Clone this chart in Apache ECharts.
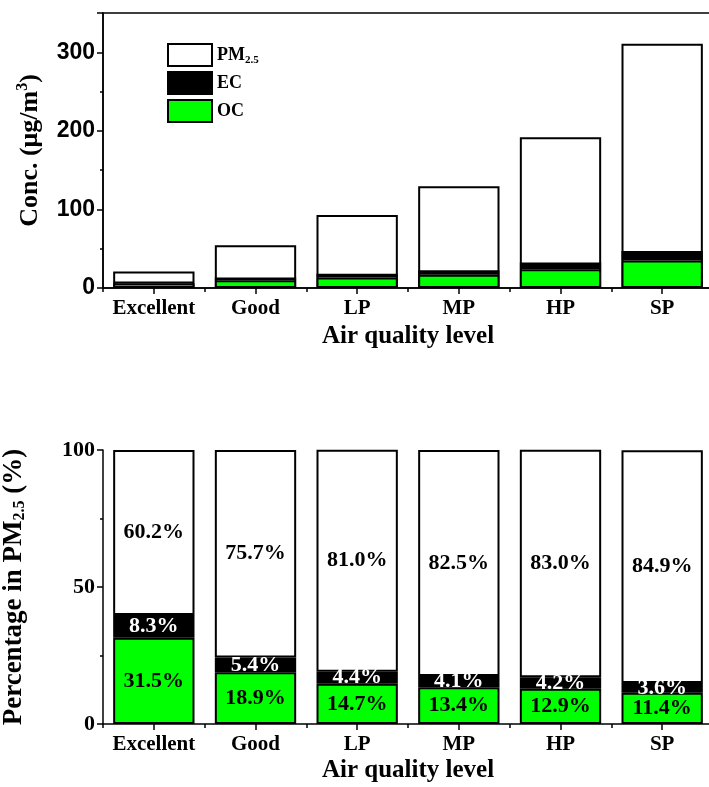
<!DOCTYPE html>
<html><head><meta charset="utf-8">
<script src="https://cdn.jsdelivr.net/npm/echarts@6/dist/echarts.min.js"></script>
<style>html,body{margin:0;padding:0;background:#fff}#c{width:709px;height:787px}</style>
</head><body><div id="c"></div>
<script>
const categories = ['Excellent', 'Good', 'LP', 'MP', 'HP', 'SP'];
// Upper panel: concentrations (µg/m3)
const pm25Conc = [21, 54.5, 93, 129.5, 192, 311];
const ocConc = [6, 10, 13.5, 17, 24, 35];
const ecConc = [2.3, 3.5, 4.5, 5.5, 8.5, 12];
// Lower panel: percentage in PM2.5
const ocPct = [31.5, 18.9, 14.7, 13.4, 12.9, 11.4];
const ecPct = [8.3, 5.4, 4.4, 4.1, 4.2, 3.6];
const otherPct = [60.2, 75.7, 81.0, 82.5, 83.0, 84.9];
const concTicks = [0, 100, 200, 300];

const SERIF = '"Liberation Serif", "Times New Roman", serif';
const SANS = '"Liberation Sans", Arial, sans-serif';
const LINE = { color: '#000', width: 1.5 };
const GREEN = '#00ff00';

function mainX(gi, gap) {
  return {
    gridIndex: gi, type: 'category', data: categories, position: 'bottom',
    axisLine: { show: true, lineStyle: LINE },
    axisTick: { show: true, alignWithLabel: true, interval: 0, length: 6, lineStyle: LINE },
    axisLabel: { interval: 0, fontFamily: SERIF, fontWeight: 'bold', fontSize: 21, color: '#000', margin: 10 },
    splitLine: { show: false },
    name: 'Air quality level', nameLocation: 'middle', nameGap: gap,
    nameTextStyle: { fontFamily: SERIF, fontWeight: 'bold', fontSize: 25, color: '#000' }
  };
}
function boundX(gi) {
  return {
    gridIndex: gi, type: 'category', data: categories, position: 'bottom',
    axisLine: { show: false },
    axisTick: { show: true, alignWithLabel: false, interval: 0, length: 4, lineStyle: LINE },
    axisLabel: { show: false }, splitLine: { show: false }
  };
}
const barBorder = { borderColor: '#000', borderWidth: 2 };
function pctLabel(color) {
  return {
    show: true, position: 'inside',
    formatter: p => p.value.toFixed(1) + '%',
    fontFamily: SERIF, fontWeight: 'bold', fontSize: 22, color: color, textBorderWidth: 0
  };
}

const chart = echarts.init(document.getElementById('c'), null, { renderer: 'canvas' });
chart.setOption({
  animation: false,
  backgroundColor: '#fff',
  grid: [
    { left: 103, top: 13, width: 610, height: 275, outerBoundsMode: 'none', containLabel: false,
      show: true, borderColor: '#000', borderWidth: 1.5, backgroundColor: 'transparent' },
    { left: 103, top: 450, width: 610, height: 274, outerBoundsMode: 'none', containLabel: false }
  ],
  legend: {
    data: ['PM2.5', 'EC', 'OC'], orient: 'vertical', left: 167, top: 43, padding: 0,
    itemWidth: 44, itemHeight: 22, itemGap: 4, icon: 'rect', selectedMode: false,
    itemStyle: { borderColor: '#000', borderWidth: 2 },
    formatter: n => n === 'PM2.5' ? 'PM{s|2.5}' : n,
    textStyle: {
      fontFamily: SERIF, fontWeight: 'bold', fontSize: 18, color: '#000', lineHeight: 22,
      rich: { s: { fontFamily: SERIF, fontWeight: 'bold', fontSize: 11, lineHeight: 11, verticalAlign: 'top', padding: [11, 0, 0, 0] } }
    }
  },
  xAxis: [mainX(0, 36), boundX(0), mainX(1, 34), boundX(1)],
  yAxis: [
    {
      gridIndex: 0, type: 'value', position: 'left', min: 0, max: 350, interval: 100,
      axisLine: { show: true, lineStyle: LINE },
      axisTick: { show: true, length: 6, lineStyle: LINE },
      splitLine: { show: false },
      axisLabel: { formatter: v => concTicks.includes(v) ? String(v) : '', fontFamily: SANS, fontWeight: 'bold', fontSize: 23, color: '#000', margin: 8 },
      name: 'Conc. (μg/m{sup|3})', nameLocation: 'middle', nameGap: 58,
      nameTextStyle: {
        fontFamily: SERIF, fontWeight: 'bold', fontSize: 26, color: '#000', lineHeight: 30,
        rich: { sup: { fontFamily: SERIF, fontWeight: 'bold', fontSize: 16, lineHeight: 16, verticalAlign: 'top' } }
      }
    },
    {
      gridIndex: 0, type: 'value', position: 'left', min: 0, max: 350, interval: 50,
      axisLine: { show: false },
      axisTick: { show: true, length: 3, lineStyle: LINE },
      axisLabel: { show: false }, splitLine: { show: false }
    },
    {
      gridIndex: 1, type: 'value', position: 'left', min: 0, max: 100, interval: 50,
      axisLine: { show: true, lineStyle: LINE },
      axisTick: { show: true, length: 6, lineStyle: LINE },
      minorTick: { show: true, splitNumber: 2, length: 3, lineStyle: LINE },
      splitLine: { show: false }, minorSplitLine: { show: false },
      axisLabel: { fontFamily: SERIF, fontWeight: 'bold', fontSize: 22, color: '#000', margin: 8 },
      name: 'Percentage in PM{sub|2.5} (%)', nameLocation: 'middle', nameGap: 74,
      nameTextStyle: {
        fontFamily: SERIF, fontWeight: 'bold', fontSize: 27, color: '#000', lineHeight: 30,
        rich: { sub: { fontFamily: SERIF, fontWeight: 'bold', fontSize: 16, lineHeight: 16, verticalAlign: 'top', padding: [13, 0, 0, 0] } }
      }
    }
  ],
  series: [
    { name: 'PM2.5', type: 'bar', xAxisIndex: 0, yAxisIndex: 0, data: pm25Conc, barWidth: '80%', barGap: '-100%',
      itemStyle: Object.assign({ color: '#fff' }, barBorder) },
    { name: 'OC', type: 'bar', xAxisIndex: 0, yAxisIndex: 0, stack: 'carbon', data: ocConc, barWidth: '80%',
      itemStyle: Object.assign({ color: GREEN }, barBorder) },
    { name: 'EC', type: 'bar', xAxisIndex: 0, yAxisIndex: 0, stack: 'carbon', data: ecConc, barWidth: '80%',
      itemStyle: Object.assign({ color: '#000' }, barBorder) },
    { name: 'OC share', type: 'bar', xAxisIndex: 2, yAxisIndex: 2, stack: 'pct', data: ocPct, barWidth: '80%',
      itemStyle: Object.assign({ color: GREEN }, barBorder), label: pctLabel('#000') },
    { name: 'EC share', type: 'bar', xAxisIndex: 2, yAxisIndex: 2, stack: 'pct', data: ecPct, barWidth: '80%',
      itemStyle: Object.assign({ color: '#000' }, barBorder), label: pctLabel('#fff') },
    { name: 'Other share', type: 'bar', xAxisIndex: 2, yAxisIndex: 2, stack: 'pct', data: otherPct, barWidth: '80%',
      itemStyle: Object.assign({ color: '#fff' }, barBorder), label: pctLabel('#000') }
  ]
});
</script>
</body></html>
